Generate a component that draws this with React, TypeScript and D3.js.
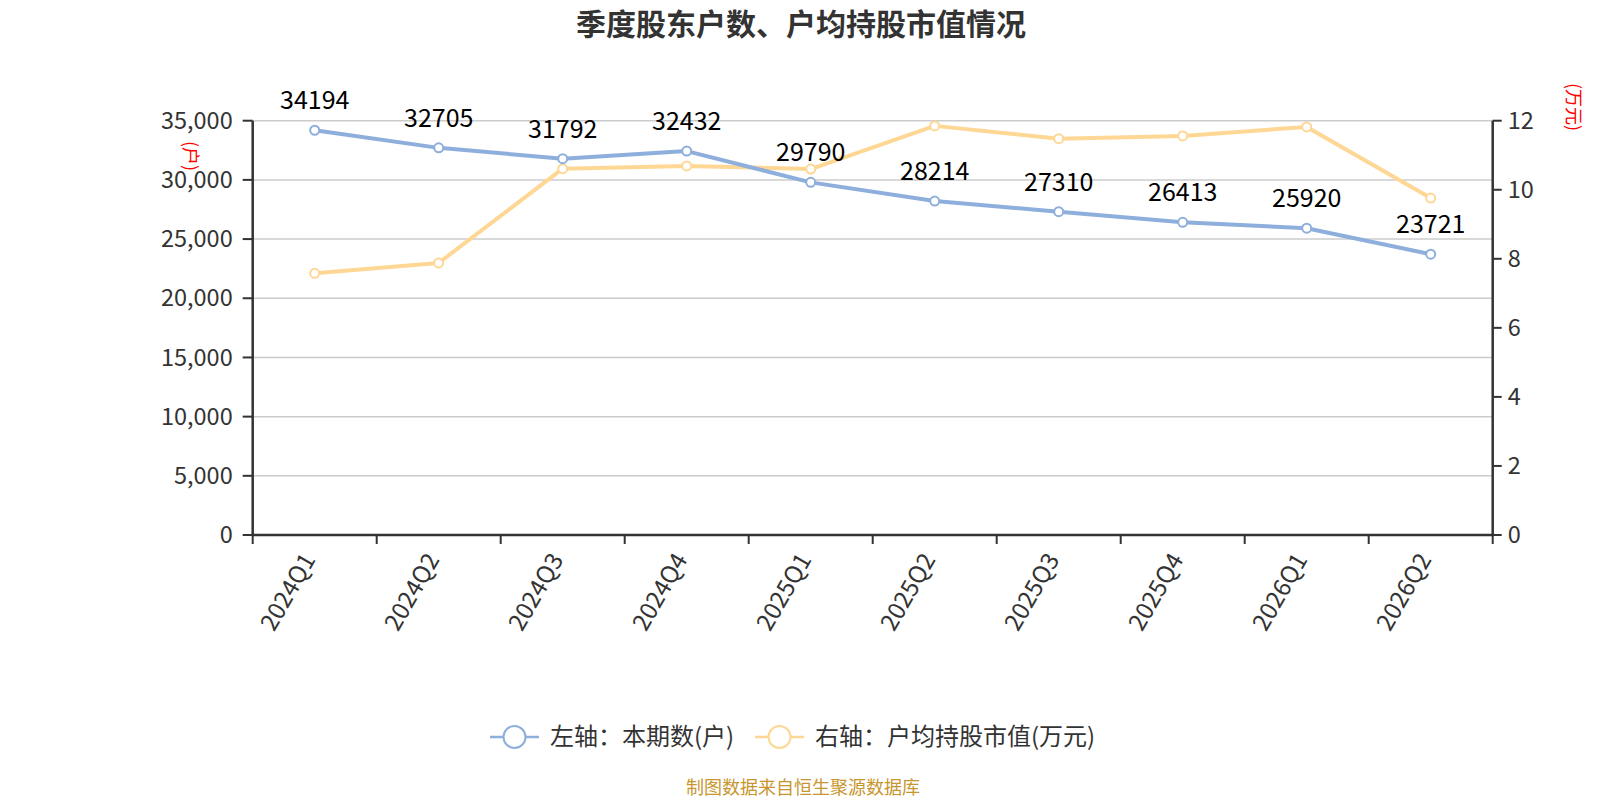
import { FC, useEffect, useRef } from 'react';
import * as d3 from 'd3';

const quarters = ['2024Q1', '2024Q2', '2024Q3', '2024Q4', '2025Q1', '2025Q2', '2025Q3', '2025Q4', '2026Q1', '2026Q2'];
const holders = [34194, 32705, 31792, 32432, 29790, 28214, 27310, 26413, 25920, 23721];
const avgValue = [7.58, 7.88, 10.61, 10.69, 10.6, 11.85, 11.48, 11.56, 11.82, 9.76];
const leftTicks = [0, 5000, 10000, 15000, 20000, 25000, 30000, 35000];
const rightTicks = [0, 2, 4, 6, 8, 10, 12];
const legendNames = ['左轴：本期数(户)', '右轴：户均持股市值(万元)'];

const BLUE = '#8eaedc';
const YELLOW = '#fed795';
const FONT = '"Noto Sans CJK SC", "Noto Sans", sans-serif';

const App: FC = () => {
    const svgRef = useRef<SVGSVGElement>(null);

    useEffect(() => {
        const width = 1600;
        const height = 800;
        const left = 252.7, right = 1492.7, top = 120.7, bottom = 535;

        const svg = d3.select(svgRef.current)
            .attr('width', width)
            .attr('height', height)
            .style('font-family', FONT);
        svg.selectAll('*').remove();

        const x = d3.scaleBand().domain(quarters).range([left, right]);
        const cx = (q: string) => (x(q) as number) + x.bandwidth() / 2;
        const yL = d3.scaleLinear().domain([0, 35000]).range([bottom, top]);
        const yR = d3.scaleLinear().domain([0, 12]).range([bottom, top]);

        // title
        svg.append('text')
            .attr('x', 801).attr('y', 35)
            .attr('text-anchor', 'middle')
            .attr('font-size', 30).attr('font-weight', 'bold')
            .attr('fill', '#333')
            .text('季度股东户数、户均持股市值情况');

        // grid
        svg.append('g').selectAll('line')
            .data(leftTicks.filter(d => d > 0))
            .enter().append('line')
            .attr('x1', left).attr('x2', right)
            .attr('y1', d => yL(d)).attr('y2', d => yL(d))
            .attr('stroke', '#ccc').attr('stroke-width', 1.5);

        // left axis
        const gl = svg.append('g');
        gl.append('line').attr('x1', left).attr('x2', left).attr('y1', top).attr('y2', bottom + 1)
            .attr('stroke', '#333').attr('stroke-width', 2.5);
        gl.selectAll('line.t').data(leftTicks).enter().append('line').attr('class', 't')
            .attr('x1', left - 10).attr('x2', left).attr('y1', d => yL(d)).attr('y2', d => yL(d))
            .attr('stroke', '#333').attr('stroke-width', 2);
        gl.selectAll('text').data(leftTicks).enter().append('text')
            .attr('x', left - 20).attr('y', d => yL(d)).attr('dy', '0.35em')
            .attr('text-anchor', 'end').attr('font-size', 23.5).attr('fill', '#333')
            .text(d => d3.format(',')(d));

        // right axis
        const gr = svg.append('g');
        gr.append('line').attr('x1', right).attr('x2', right).attr('y1', top).attr('y2', bottom + 1)
            .attr('stroke', '#333').attr('stroke-width', 2.5);
        gr.selectAll('line.t').data(rightTicks).enter().append('line').attr('class', 't')
            .attr('x1', right).attr('x2', right + 9).attr('y1', d => yR(d)).attr('y2', d => yR(d))
            .attr('stroke', '#333').attr('stroke-width', 2);
        gr.selectAll('text').data(rightTicks).enter().append('text')
            .attr('x', right + 15).attr('y', d => yR(d)).attr('dy', '0.35em')
            .attr('text-anchor', 'start').attr('font-size', 23.5).attr('fill', '#333')
            .text(d => String(d));

        // axis names
        svg.append('text')
            .attr('transform', `translate(184,156) rotate(90)`)
            .attr('text-anchor', 'middle').attr('font-size', 18).attr('fill', 'red')
            .text('(户)');
        svg.append('text')
            .attr('transform', `translate(1567,107) rotate(90)`)
            .attr('text-anchor', 'middle').attr('font-size', 18).attr('fill', 'red')
            .text('(万元)');

        // bottom axis
        const gb = svg.append('g');
        gb.append('line').attr('x1', left - 1).attr('x2', right + 1).attr('y1', bottom).attr('y2', bottom)
            .attr('stroke', '#333').attr('stroke-width', 2.5);
        const bounds = quarters.map(q => x(q) as number).concat([right]);
        gb.selectAll('line.t').data(bounds).enter().append('line').attr('class', 't')
            .attr('x1', d => d).attr('x2', d => d).attr('y1', bottom).attr('y2', bottom + 9)
            .attr('stroke', '#333').attr('stroke-width', 2);
        gb.selectAll('text').data(quarters).enter().append('text')
            .attr('transform', d => `translate(${cx(d) - 13},${bottom + 16}) rotate(-60)`)
            .attr('text-anchor', 'end').attr('dy', '0.7em')
            .attr('font-size', 24).attr('fill', '#333')
            .text(d => d);

        // yellow series
        const lineR = d3.line<number>().x((_, i) => cx(quarters[i])).y(d => yR(d));
        svg.append('path').datum(avgValue).attr('d', lineR)
            .attr('fill', 'none').attr('stroke', YELLOW).attr('stroke-width', 4)
            .attr('stroke-linejoin', 'round');
        svg.append('g').selectAll('circle').data(avgValue).enter().append('circle')
            .attr('cx', (_, i) => cx(quarters[i])).attr('cy', d => yR(d)).attr('r', 4.5)
            .attr('fill', '#fff').attr('stroke', YELLOW).attr('stroke-width', 2);

        // blue series
        const lineL = d3.line<number>().x((_, i) => cx(quarters[i])).y(d => yL(d));
        svg.append('path').datum(holders).attr('d', lineL)
            .attr('fill', 'none').attr('stroke', BLUE).attr('stroke-width', 4)
            .attr('stroke-linejoin', 'round');
        svg.append('g').selectAll('circle').data(holders).enter().append('circle')
            .attr('cx', (_, i) => cx(quarters[i])).attr('cy', d => yL(d)).attr('r', 4.5)
            .attr('fill', '#fff').attr('stroke', BLUE).attr('stroke-width', 2);
        svg.append('g').selectAll('text').data(holders).enter().append('text')
            .attr('x', (_, i) => cx(quarters[i])).attr('y', d => yL(d) - 21)
            .attr('text-anchor', 'middle').attr('font-size', 25).attr('fill', '#000')
            .text(d => String(d));

        // legend
        const lg = svg.append('g');
        const items = [
            { name: legendNames[0], color: BLUE, x: 490 },
            { name: legendNames[1], color: YELLOW, x: 755 },
        ];
        items.forEach(it => {
            lg.append('line').attr('x1', it.x).attr('x2', it.x + 49).attr('y1', 737).attr('y2', 737)
                .attr('stroke', it.color).attr('stroke-width', 2.5);
            lg.append('circle').attr('cx', it.x + 24.5).attr('cy', 737).attr('r', 11)
                .attr('fill', '#fff').attr('stroke', it.color).attr('stroke-width', 2);
            lg.append('text').attr('x', it.x + 60).attr('y', 737).attr('dy', '0.35em')
                .attr('font-size', 24).attr('fill', '#333').text(it.name);
        });

        // source
        svg.append('text')
            .attr('x', 803).attr('y', 794)
            .attr('text-anchor', 'middle').attr('font-size', 18).attr('fill', '#c8962e')
            .text('制图数据来自恒生聚源数据库');
    }, []);

    return <svg ref={svgRef} style={{ position: 'absolute', left: 0, top: 0 }}></svg>;
};

export default App;
